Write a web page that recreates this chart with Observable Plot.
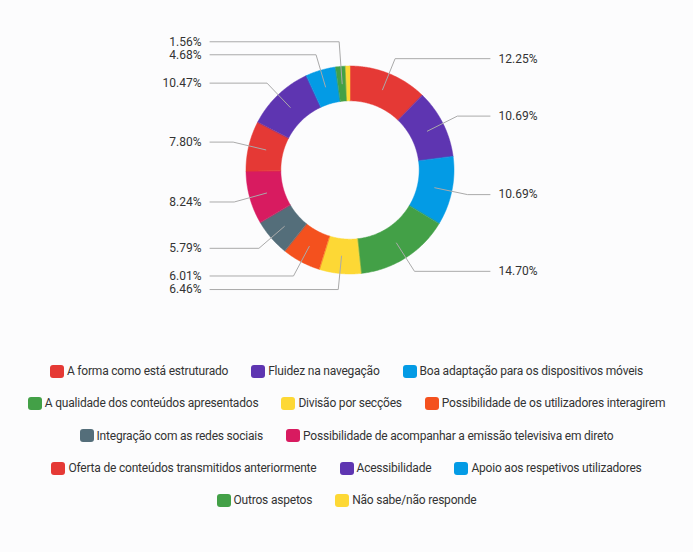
<!DOCTYPE html>
<html><head><meta charset="utf-8">
<script src="https://cdn.jsdelivr.net/npm/d3@7"></script>
<script src="https://cdn.jsdelivr.net/npm/@observablehq/plot@0.6"></script>
<style>
body{margin:0;background:#fcfcfd;font-family:Roboto,"Noto Sans",sans-serif;}
#chart svg{display:block;background:#fcfcfd;}
#legend{display:flex;flex-wrap:wrap;justify-content:center;width:672px;margin:0 auto;padding-top:10px;}
.item{display:flex;align-items:center;height:32.3px;margin:0 11.5px;font-size:12px;letter-spacing:-0.2px;color:#333;white-space:nowrap;}
.sw{width:14px;height:13px;border-radius:3px;margin-right:3px;flex:none;}
</style></head>
<body>
<div id="chart"></div>
<div id="legend"></div>
<script>
const categories = [
  "A forma como está estruturado",
  "Fluidez na navegação",
  "Boa adaptação para os dispositivos móveis",
  "A qualidade dos conteúdos apresentados",
  "Divisão por secções",
  "Possibilidade de os utilizadores interagirem",
  "Integração com as redes sociais",
  "Possibilidade de acompanhar a emissão televisiva em direto",
  "Oferta de conteúdos transmitidos anteriormente",
  "Acessibilidade",
  "Apoio aos respetivos utilizadores",
  "Outros aspetos",
  "Não sabe/não responde"
];
const values = [12.25, 10.69, 10.69, 14.70, 6.46, 6.01, 5.79, 8.24, 7.80, 10.47, 4.68, 1.56, 0.66];
const showLabel = [true,true,true,true,true,true,true,true,true,true,true,true,false];
const colors = ["#e53935","#5e35b1","#039be5","#43a047","#fdd835","#f4511e","#546e7a","#d81b60",
                "#e53935","#5e35b1","#039be5","#43a047","#fdd835"];

const W = 693, H = 345, cx = 349.5, cy = 169.5, Rpx = 104;
const inner = 0.665, midR = (1 + inner) / 2, elbowR = 1.155, gap = 13 / Rpx;
const lineEnd = 140 / Rpx, textX = 148.5 / Rpx;

const pie = d3.pie().sort(null).value(d => d.value)(categories.map((c, i) => ({name: c, value: values[i], i})));

// polygon points for each slice (x right, y down, angle clockwise from top)
const pt = (a, r) => ({x: Math.sin(a) * r, y: -Math.cos(a) * r});
const slices = pie.map(p => {
  const n = Math.max(4, Math.ceil((p.endAngle - p.startAngle) / 0.01));
  const pts = [];
  for (let k = 0; k <= n; k++) pts.push(pt(p.startAngle + (p.endAngle - p.startAngle) * k / n, 1));
  for (let k = n; k >= 0; k--) pts.push(pt(p.startAngle + (p.endAngle - p.startAngle) * k / n, inner));
  return {i: p.data.i, pts};
});

// label layout
const labs = pie.filter(p => showLabel[p.data.i]).map(p => {
  const a = (p.startAngle + p.endAngle) / 2;
  return {i: p.data.i, a, right: a < Math.PI, y: -Math.cos(a) * elbowR, text: values[p.data.i].toFixed(2) + "%"};
});
const rightL = labs.filter(d => d.right).sort((u, v) => u.a - v.a);
for (let k = 1; k < rightL.length; k++) rightL[k].y = Math.max(rightL[k].y, rightL[k-1].y + gap);
const leftL = labs.filter(d => !d.right).sort((u, v) => u.a - v.a);
for (let k = 1; k < leftL.length; k++) leftL[k].y = Math.min(leftL[k].y, leftL[k-1].y - gap);

const leaders = labs.flatMap(d => {
  const s = pt(d.a, midR);
  return [
    {i: d.i, x: s.x, y: s.y},
    {i: d.i, x: Math.sin(d.a) * elbowR, y: d.y},
    {i: d.i, x: d.right ? lineEnd : -lineEnd, y: d.y}
  ];
});

const marks = [
  ...slices.map(s => Plot.line(s.pts, {x: "x", y: "y", fill: colors[s.i], stroke: colors[s.i], strokeWidth: 0.5, curve: "linear-closed"})),
  Plot.line(leaders, {x: "x", y: "y", z: "i", stroke: "#aaaaaa", strokeWidth: 1}),
  Plot.text(labs.filter(d => d.right), {x: () => textX, y: "y", text: "text", textAnchor: "start", fontSize: 12, fill: "#333", lineAnchor: "middle"}),
  Plot.text(labs.filter(d => !d.right), {x: () => -textX, y: "y", text: "text", textAnchor: "end", fontSize: 12, fill: "#333", lineAnchor: "middle"})
];

const chart = Plot.plot({
  width: W, height: H, margin: 0,
  style: {background: "#fcfcfd", fontFamily: "Roboto, 'Noto Sans', sans-serif"},
  x: {domain: [-cx / Rpx, (W - cx) / Rpx], range: [0, W], axis: null},
  y: {domain: [-cy / Rpx, (H - cy) / Rpx], range: [0, H], axis: null},
  marks
});
document.getElementById("chart").appendChild(chart);

const legend = document.getElementById("legend");
categories.forEach((c, i) => {
  const it = document.createElement("div");
  it.className = "item";
  it.innerHTML = `<span class="sw" style="background:${colors[i]}"></span><span>${c}</span>`;
  legend.appendChild(it);
});
</script>
</body></html>
